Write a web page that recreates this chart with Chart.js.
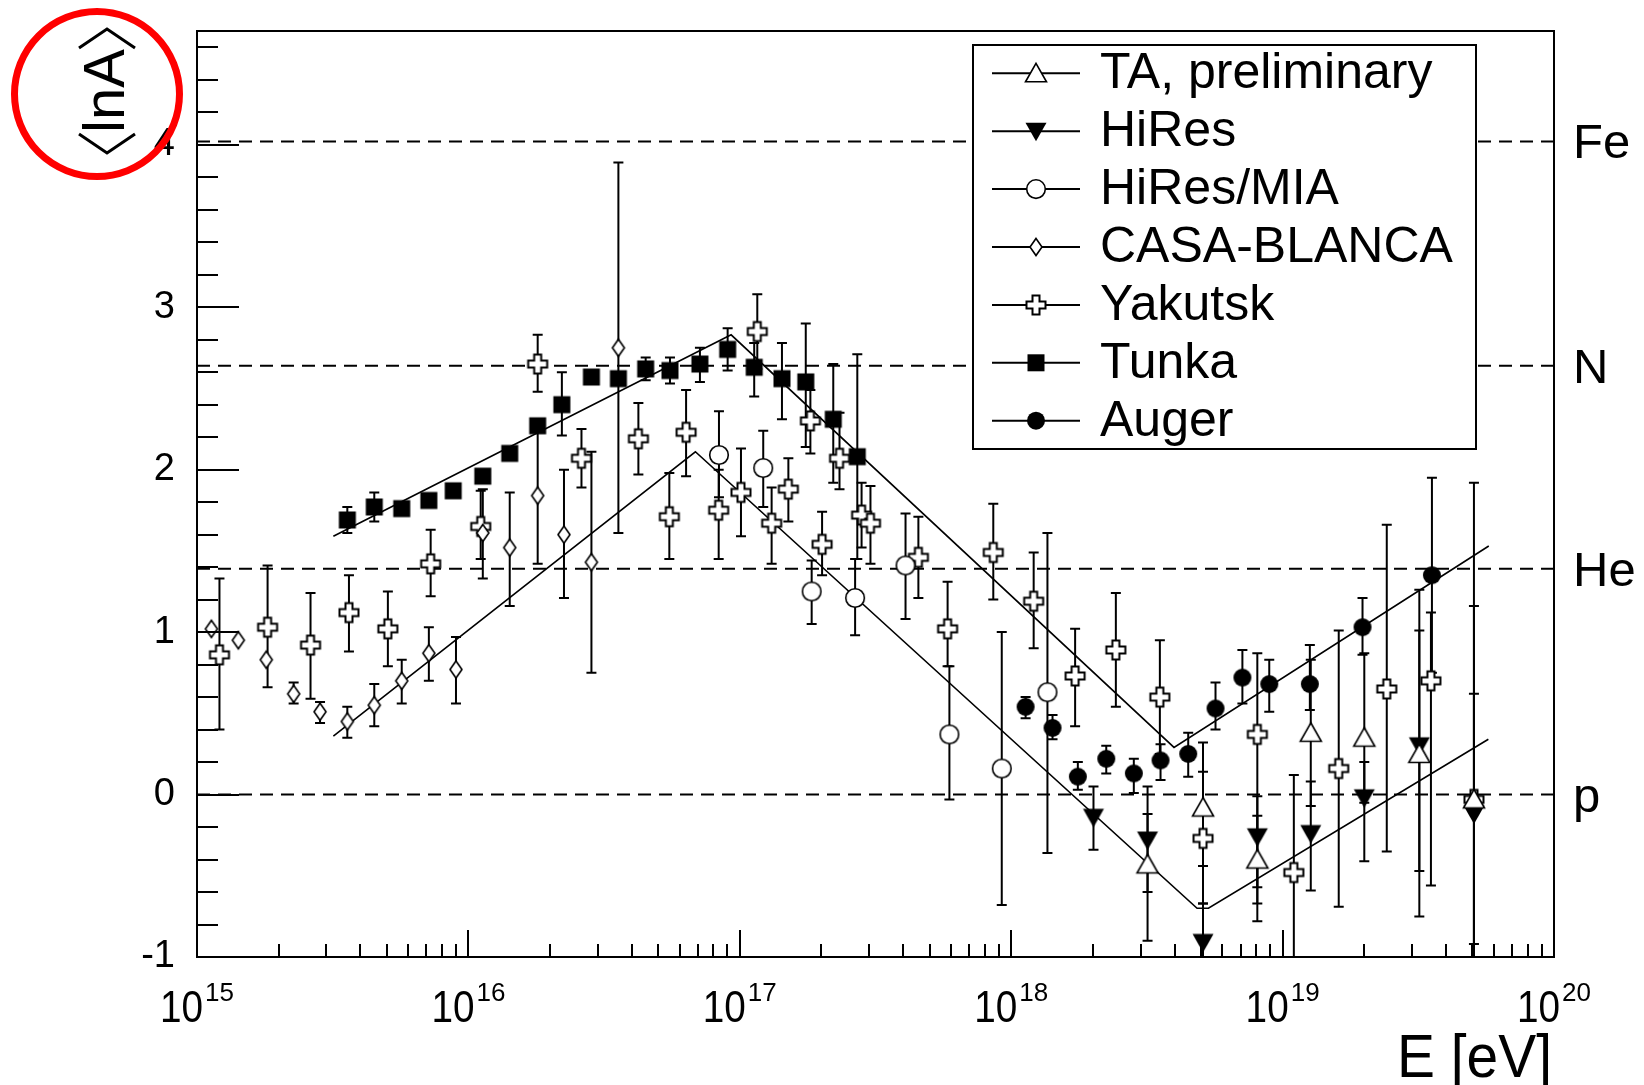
<!DOCTYPE html>
<html>
<head>
<meta charset="utf-8">
<script src="https://cdn.jsdelivr.net/npm/chart.js@4"></script>
<style>
body { margin: 0; background: #fff; }
canvas { display: block; }
</style>
</head>
<body>
<canvas id="lnAChart" width="1644" height="1085"></canvas>
<script>

// ==========================
// データ
// ==========================

const taE = [3.18e18, 5.09e18, 8.07e18, 1.27e19, 2.00e19, 3.19e19, 5.07e19];
const taV = [-0.43, -0.08, -0.40, 0.38, 0.35, 0.25, -0.03];
const taHi = [-0.12, 0.32, -0.13, 0.83, 0.87, 1.26, 1.16];
const taLo = [-0.90, -0.44, -0.67, -0.07, -0.05, -0.75, -0.92];

const hiresE = [2.01e18, 3.18e18, 5.09e18, 8.07e18, 1.27e19, 2.00e19, 3.19e19, 5.07e19];
const hiresV = [-0.14, -0.28, -0.91, -0.26, -0.24, -0.02, 0.30, -0.12];
const hiresHi = [0.05, 0.05, -0.67, -0.01, 0.08, 0.20, 1.01, 0.62];
const hiresLo = [-0.34, -0.60, -1.20, -0.57, -0.59, -0.41, -0.47, -1.20];

const miaE = [8.38e16, 1.22e17, 1.84e17, 2.66e17, 4.08e17, 5.92e17, 9.23e17, 1.36e18];
const miaV = [2.09, 2.01, 1.25, 1.21, 1.41, 0.37, 0.16, 0.63];
const miaHi = [2.36, 2.24, 1.44, 1.45, 1.73, 0.79, 1.00, 1.61];
const miaLo = [1.83, 1.77, 1.05, 0.98, 1.08, -0.03, -0.68, -0.36];

const casaE = [1.13e15, 1.42e15, 1.80e15, 2.27e15, 2.84e15, 3.58e15, 4.50e15, 5.68e15,
  7.15e15, 9.00e15, 1.13e16, 1.42e16, 1.80e16, 2.25e16, 2.84e16, 3.57e16];
const casaV = [1.02, 0.95, 0.83, 0.62, 0.51, 0.45, 0.55, 0.70, 0.87, 0.77, 1.61, 1.52, 1.84, 1.60, 1.43, 2.75];
const casaHi = [null, null, null, 0.69, 0.57, 0.54, 0.68, 0.83, 1.03, 0.97, 1.88, 1.86, 2.27, 2.00, 2.11, 3.89];
const casaLo = [null, null, null, 0.56, 0.44, 0.35, 0.42, 0.56, 0.70, 0.56, 1.33, 1.16, 1.42, 1.21, 0.75, 1.61];

const yakE = [1.21e15, 1.82e15, 2.62e15, 3.63e15, 5.05e15, 7.26e15, 1.11e16, 1.80e16, 2.61e16, 4.23e16,
  5.50e16, 6.34e16, 8.36e16, 1.01e17, 1.16e17, 1.31e17, 1.51e17, 1.82e17, 2.01e17, 2.33e17,
  2.81e17, 3.03e17, 4.55e17, 5.83e17, 8.59e17, 1.21e18, 1.72e18, 2.43e18, 3.53e18, 5.09e18,
  8.07e18, 1.10e19, 1.61e19, 2.42e19, 3.52e19, 5.07e19];
const yakV = [0.86, 1.03, 0.92, 1.12, 1.02, 1.42, 1.65, 2.65, 2.07, 2.19,
  1.71, 2.23, 1.75, 1.86, 2.85, 1.67, 1.88, 2.30, 1.54, 2.07,
  1.72, 1.67, 1.46, 1.02, 1.49, 1.19, 0.73, 0.89, 0.60, -0.27,
  0.37, -0.48, 0.16, 0.65, 0.70, -0.03];
const yakHi = [1.33, 1.41, 1.24, 1.35, 1.25, 1.63, 1.87, 2.83, 2.25, 2.41,
  1.98, 2.49, 2.00, 2.13, 3.08, 1.89, 2.07, 2.49, 1.74, 2.35,
  1.92, 1.90, 1.71, 1.31, 1.79, 1.49, 1.02, 1.24, 0.95, 0.14,
  0.87, 0.12, 1.01, 1.66, 1.12, 1.92];
const yakLo = [0.40, 0.66, 0.59, 0.88, 0.79, 1.22, 1.45, 2.48, 1.89, 1.97,
  1.45, 1.96, 1.45, 1.59, 2.62, 1.42, 1.68, 2.10, 1.35, 1.88,
  1.52, 1.42, 1.21, 0.79, 1.20, 0.90, 0.42, 0.54, 0.25, -0.67,
  -0.78, -1.10, -0.69, -0.35, -0.56, -1.20];

const tunkaE = [3.58e15, 4.50e15, 5.68e15, 7.15e15, 8.79e15, 1.13e16, 1.42e16, 1.80e16, 2.21e16, 2.84e16,
  3.57e16, 4.50e16, 5.53e16, 7.13e16, 9.02e16, 1.13e17, 1.43e17, 1.75e17, 2.21e17, 2.71e17];
const tunkaV = [1.69, 1.77, 1.76, 1.81, 1.87, 1.96, 2.10, 2.27, 2.40, 2.57,
  2.56, 2.62, 2.61, 2.65, 2.74, 2.63, 2.56, 2.54, 2.31, 2.08];
const tunkaHi = [1.77, 1.86, null, null, null, null, null, null, 2.60, null,
  null, 2.69, 2.69, 2.75, 2.87, 2.78, 2.78, 2.90, 2.65, 2.71];
const tunkaLo = [1.61, 1.68, null, null, null, null, null, null, 2.21, null,
  null, 2.55, 2.53, 2.54, 2.61, 2.45, 2.31, 2.14, 1.92, 1.45];

const augerE = [1.13e18, 1.42e18, 1.76e18, 2.24e18, 2.83e18, 3.55e18, 4.49e18, 5.66e18, 7.11e18, 8.93e18,
  1.26e19, 1.97e19, 3.55e19];
const augerV = [0.54, 0.41, 0.11, 0.22, 0.13, 0.21, 0.25, 0.53, 0.72, 0.68, 0.68, 1.03, 1.35];
const augerHi = [0.60, 0.49, 0.20, 0.30, 0.22, 0.31, 0.38, 0.69, 0.89, 0.83, 0.92, 1.21, 1.95];
const augerLo = [0.47, 0.34, 0.03, 0.13, 0.01, 0.09, 0.11, 0.40, 0.56, 0.51, 0.52, 0.86, 0.75];

// 折れ線（モデル）
const fitUpperE = [3.18e15, 9.29e16, 3.98e18, 5.75e19];
const fitUpperV = [1.59, 2.83, 0.29, 1.53];
const fitLowerE = [3.18e15, 6.86e16, 4.84e18, 5.33e18, 5.73e19];
const fitLowerV = [0.36, 2.11, -0.70, -0.70, 0.34];

// 元素ライン
const elemNames = ["Fe", "N", "He", "p"];
const elemValues = [4.02, 2.64, 1.39, 0];

// 目盛り
const yTickValues = [-1, 0, 1, 2, 3, 4];
const xTickExponents = [15, 16, 17, 18, 19, 20];

const legendNames = ["TA, preliminary", "HiRes", "HiRes/MIA", "CASA-BLANCA", "Yakutsk", "Tunka", "Auger"];
const legendKinds = ["triUp", "triDown", "circleOpen", "diamond", "cross", "square", "circle"];

const FONT = "'Liberation Sans', Arial, sans-serif";


// ==========================
// マーカー
// ==========================

function drawMarker(ctx, kind, c1, c2) {

  ctx.save();
  ctx.strokeStyle = "#000";
  ctx.fillStyle = "#fff";
  ctx.lineWidth = 1.6;
  ctx.lineJoin = "miter";
  ctx.beginPath();

  if (kind === "triUp") {
    ctx.moveTo(c1, c2 - 10);
    ctx.lineTo(c1 + 10.5, c2 + 8.5);
    ctx.lineTo(c1 - 10.5, c2 + 8.5);
    ctx.closePath();
    ctx.fill();
    ctx.stroke();
  } else if (kind === "triDown") {
    ctx.moveTo(c1, c2 + 10);
    ctx.lineTo(c1 + 10.5, c2 - 8.5);
    ctx.lineTo(c1 - 10.5, c2 - 8.5);
    ctx.closePath();
    ctx.fillStyle = "#000";
    ctx.fill();
  } else if (kind === "circleOpen") {
    ctx.arc(c1, c2, 9.3, 0, Math.PI * 2);
    ctx.fill();
    ctx.stroke();
  } else if (kind === "diamond") {
    ctx.moveTo(c1, c2 - 8.5);
    ctx.lineTo(c1 + 6, c2);
    ctx.lineTo(c1, c2 + 8.5);
    ctx.lineTo(c1 - 6, c2);
    ctx.closePath();
    ctx.fill();
    ctx.stroke();
  } else if (kind === "cross") {
    const a = 3.5, b = 9.5;
    ctx.moveTo(c1 - a, c2 - b);
    ctx.lineTo(c1 + a, c2 - b);
    ctx.lineTo(c1 + a, c2 - a);
    ctx.lineTo(c1 + b, c2 - a);
    ctx.lineTo(c1 + b, c2 + a);
    ctx.lineTo(c1 + a, c2 + a);
    ctx.lineTo(c1 + a, c2 + b);
    ctx.lineTo(c1 - a, c2 + b);
    ctx.lineTo(c1 - a, c2 + a);
    ctx.lineTo(c1 - b, c2 + a);
    ctx.lineTo(c1 - b, c2 - a);
    ctx.lineTo(c1 - a, c2 - a);
    ctx.closePath();
    ctx.lineWidth = 2;
    ctx.fill();
    ctx.stroke();
  } else if (kind === "square") {
    ctx.fillStyle = "#000";
    ctx.fillRect(c1 - 8.5, c2 - 8.5, 17, 17);
  } else if (kind === "circle") {
    ctx.arc(c1, c2, 9, 0, Math.PI * 2);
    ctx.fillStyle = "#000";
    ctx.fill();
  }

  ctx.restore();

}

function makeMarker(kind) {

  const cv = document.createElement("canvas");
  cv.width = 28;
  cv.height = 28;
  drawMarker(cv.getContext("2d"), kind, 14, 14);
  return cv;

}

function toPoints(es, vs) {
  return es.map((e, i) => ({ x: e, y: vs[i] }));
}

function series(label, kind, es, vs, hi, lo) {

  return {
    label: label,
    data: toPoints(es, vs),
    pointStyle: makeMarker(kind),
    pointRadius: 10,
    showLine: false,
    errHi: hi,
    errLo: lo,
    order: 0
  };

}

function lineSet(es, vs, dashed) {

  return {
    data: toPoints(es, vs),
    showLine: true,
    pointRadius: 0,
    borderColor: "#000",
    borderWidth: dashed ? 2 : 1.6,
    borderDash: dashed ? [13, 8] : [],
    tension: 0,
    order: dashed ? 2 : 1
  };

}


// ==========================
// エラーバー
// ==========================

const errorBarPlugin = {

  id: "errorBars",

  beforeDatasetsDraw(chart) {

    const { ctx, chartArea: a } = chart;
    const xs = chart.scales.x, ys = chart.scales.y;

    ctx.save();
    ctx.beginPath();
    ctx.rect(a.left, a.top, a.right - a.left, a.bottom - a.top);
    ctx.clip();
    ctx.strokeStyle = "#000";
    ctx.lineWidth = 2;

    chart.data.datasets.forEach(ds => {

      if (!ds.errHi) return;

      ds.data.forEach((p, i) => {

        if (ds.errHi[i] == null) return;

        const px = xs.getPixelForValue(p.x);
        const top = ys.getPixelForValue(ds.errHi[i]);
        const bot = ys.getPixelForValue(ds.errLo[i]);

        ctx.beginPath();
        ctx.moveTo(px, top);
        ctx.lineTo(px, bot);
        ctx.moveTo(px - 5, top);
        ctx.lineTo(px + 5, top);
        ctx.moveTo(px - 5, bot);
        ctx.lineTo(px + 5, bot);
        ctx.stroke();

      });

    });

    ctx.restore();

  }

};


// ==========================
// 枠・目盛り・凡例
// ==========================

const framePlugin = {

  id: "frame",

  afterDraw(chart) {

    const { ctx, chartArea: a } = chart;
    const xs = chart.scales.x, ys = chart.scales.y;

    ctx.save();
    ctx.strokeStyle = "#000";
    ctx.fillStyle = "#000";
    ctx.lineWidth = 2;

    // 枠
    ctx.strokeRect(a.left, a.top, a.right - a.left, a.bottom - a.top);

    // y目盛り
    ctx.beginPath();
    for (let k = 0; k <= 28; k++) {
      const v = -1 + k * 0.2;
      const py = Math.round(ys.getPixelForValue(v));
      const len = k % 5 === 0 ? 42 : 21;
      ctx.moveTo(a.left, py);
      ctx.lineTo(a.left + len, py);
    }

    // x目盛り
    for (let e = 15; e < 20; e++) {
      for (let m = 1; m <= 9; m++) {
        const px = Math.round(xs.getPixelForValue(m * Math.pow(10, e)));
        const len = m === 1 ? 27 : 13;
        ctx.moveTo(px, a.bottom);
        ctx.lineTo(px, a.bottom - len);
      }
    }
    ctx.stroke();

    // yラベル
    ctx.font = "38px " + FONT;
    ctx.textAlign = "right";
    ctx.textBaseline = "middle";
    yTickValues.forEach(v => {
      ctx.fillText(String(v), 175, ys.getPixelForValue(v));
    });

    // xラベル 10^n
    ctx.textBaseline = "alphabetic";
    ctx.textAlign = "left";
    xTickExponents.forEach(n => {
      const px = xs.getPixelForValue(Math.pow(10, n));
      ctx.font = "44px " + FONT;
      const wBase = ctx.measureText("10").width * 0.88;
      ctx.font = "26px " + FONT;
      const wExp = ctx.measureText(String(n)).width;
      const x0 = px - (wBase + 2 + wExp) / 2;
      ctx.save();
      ctx.translate(x0, 1022);
      ctx.scale(0.88, 1);
      ctx.font = "44px " + FONT;
      ctx.fillText("10", 0, 0);
      ctx.restore();
      ctx.font = "26px " + FONT;
      ctx.fillText(String(n), x0 + wBase + 2, 1001);
    });

    // x軸タイトル
    ctx.save();
    ctx.font = "61px " + FONT;
    const wE = ctx.measureText("E [eV]").width;
    ctx.translate(1552, 1077);
    ctx.scale(155 / wE, 1);
    ctx.textAlign = "right";
    ctx.fillText("E [eV]", 0, 0);
    ctx.restore();

    // 右側の元素名
    ctx.font = "49px " + FONT;
    ctx.textAlign = "left";
    ctx.textBaseline = "alphabetic";
    elemNames.forEach((name, i) => {
      ctx.fillText(name, 1573, ys.getPixelForValue(elemValues[i]) + 17);
    });

    // y軸タイトル <lnA>
    ctx.save();
    ctx.translate(124, 91);
    ctx.rotate(-Math.PI / 2);
    ctx.font = "58px " + FONT;
    ctx.textAlign = "center";
    ctx.fillText("lnA", 0, 0);
    ctx.lineWidth = 3;
    ctx.beginPath();
    ctx.moveTo(-43, -45);
    ctx.lineTo(-62, -17);
    ctx.lineTo(-43, 11);
    ctx.moveTo(43, -45);
    ctx.lineTo(62, -17);
    ctx.lineTo(43, 11);
    ctx.stroke();
    ctx.restore();

    // 赤丸
    ctx.save();
    ctx.strokeStyle = "#f00";
    ctx.lineWidth = 7;
    ctx.beginPath();
    ctx.arc(97, 94, 82.5, 0, Math.PI * 2);
    ctx.stroke();
    ctx.restore();

    // 凡例
    const lx = 973, ly = 45, lw = 503, lh = 404;
    ctx.fillStyle = "#fff";
    ctx.fillRect(lx, ly, lw, lh);
    ctx.strokeStyle = "#000";
    ctx.lineWidth = 2;
    ctx.strokeRect(lx, ly, lw, lh);

    ctx.fillStyle = "#000";
    ctx.font = "50px " + FONT;
    ctx.textAlign = "left";
    ctx.textBaseline = "alphabetic";
    legendNames.forEach((name, i) => {
      const ry = 73.3 + i * 57.9;
      ctx.lineWidth = 2;
      ctx.beginPath();
      ctx.moveTo(992, ry);
      ctx.lineTo(1080, ry);
      ctx.stroke();
      drawMarker(ctx, legendKinds[i], 1036, ry);
      ctx.fillStyle = "#000";
      ctx.fillText(name, 1100, ry + 15);
    });

    ctx.restore();

  }

};


// ==========================
// チャート
// ==========================

const datasets = [
  series("TA, preliminary", "triUp", taE, taV, taHi, taLo),
  series("HiRes", "triDown", hiresE, hiresV, hiresHi, hiresLo),
  series("HiRes/MIA", "circleOpen", miaE, miaV, miaHi, miaLo),
  series("CASA-BLANCA", "diamond", casaE, casaV, casaHi, casaLo),
  series("Yakutsk", "cross", yakE, yakV, yakHi, yakLo),
  series("Tunka", "square", tunkaE, tunkaV, tunkaHi, tunkaLo),
  series("Auger", "circle", augerE, augerV, augerHi, augerLo),
  lineSet(fitUpperE, fitUpperV, false),
  lineSet(fitLowerE, fitLowerV, false)
];

elemValues.forEach(v => {
  datasets.push(lineSet([1e15, 1e20], [v, v], true));
});

new Chart(document.getElementById("lnAChart"), {

  type: "scatter",

  data: { datasets: datasets },

  options: {
    responsive: false,
    animation: false,
    devicePixelRatio: 1,
    layout: {
      autoPadding: false,
      padding: { left: 197, top: 31, right: 90, bottom: 128 }
    },
    scales: {
      x: { type: "logarithmic", min: 1e15, max: 1e20, display: false },
      y: { type: "linear", min: -1, max: 4.7, display: false }
    },
    plugins: {
      legend: { display: false },
      tooltip: { enabled: false }
    }
  },

  plugins: [errorBarPlugin, framePlugin]

});

</script>
</body>
</html>
